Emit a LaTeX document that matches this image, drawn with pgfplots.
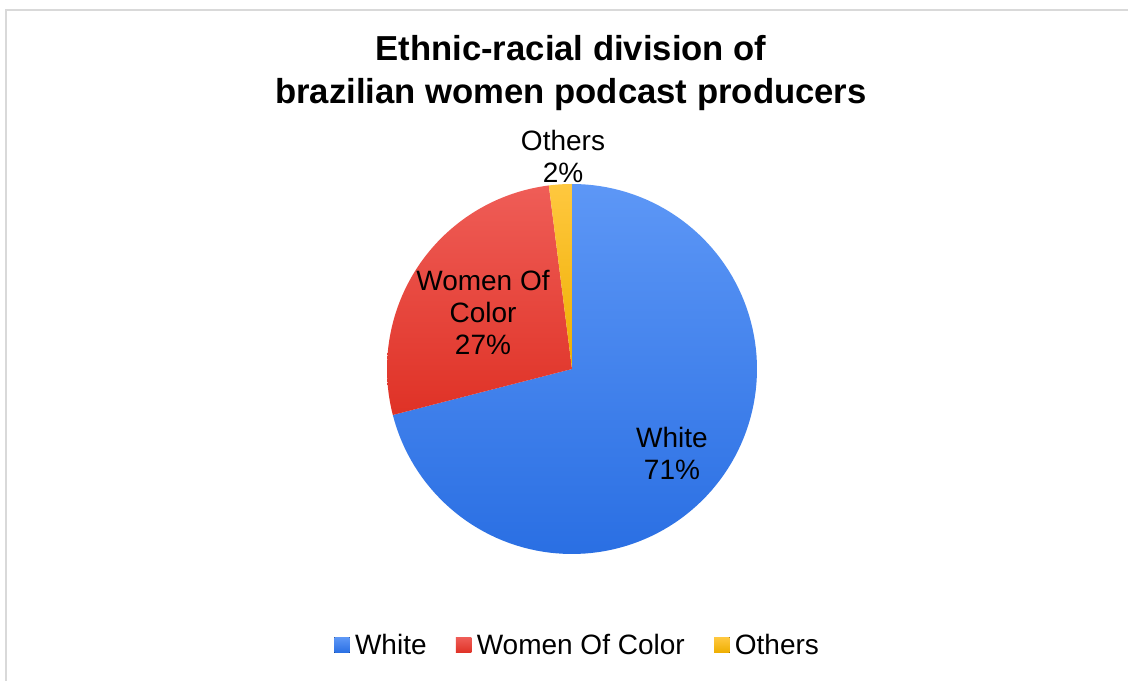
\documentclass[border=0pt]{standalone}
\usepackage{fontspec}
\setmainfont{Liberation Sans}
\usepackage{pgfplots}
\pgfplotsset{compat=1.18}
\definecolor{wTop}{HTML}{5D97F6}
\definecolor{wBot}{HTML}{2A6FE3}
\definecolor{cTop}{HTML}{EF5D57}
\definecolor{cBot}{HTML}{DF3226}
\definecolor{oTop}{HTML}{FFC83F}
\definecolor{oBot}{HTML}{EEAE00}
\definecolor{frameC}{HTML}{D9D9D9}
\begin{document}
\begin{tikzpicture}[x=0.75pt,y=0.75pt]
\useasboundingbox (0,0) rectangle (1128,681);
\fill[white] (0,0) rectangle (1128,681);
\draw[frameC, line width=1.5pt] (6,-500) -- (6,671) -- (1500,671);
% values (percent)
\pgfmathsetmacro{\vW}{71}
\pgfmathsetmacro{\vC}{27}
\pgfmathsetmacro{\vO}{2}
\pgfmathsetmacro{\aW}{90-3.6*\vW}
\pgfmathsetmacro{\aC}{\aW-3.6*\vC}
\pgfmathsetmacro{\aO}{\aC-3.6*\vO}
\begin{axis}[at={(429pt,234pt)}, anchor=center, hide axis, scale only axis,
  width=277.5pt, height=277.5pt, xmin=-1, xmax=1, ymin=-1, ymax=1, clip=false,
  legend columns=-1,
  legend style={at={(0.516,-0.246)}, anchor=center, draw=none, fill=none,
    font=\fontsize{21}{24}\selectfont,
    /tikz/every odd column/.append style={column sep=2pt},
    /tikz/every even column/.append style={column sep=20pt}},
  legend image code/.code={\fill[#1] (0pt,-5.8pt) rectangle (11.6pt,5.8pt);}]
\addplot[draw=none, top color=wTop, bottom color=wBot, domain=\aW:90, samples=120]
  ({cos(x)},{sin(x)}) -- (axis cs:0,0) -- cycle;
\addlegendentry{White}
\addplot[draw=none, top color=cTop, bottom color=cBot, domain=\aC:\aW, samples=60]
  ({cos(x)},{sin(x)}) -- (axis cs:0,0) -- cycle;
\addlegendentry{Women Of Color}
\addplot[draw=none, top color=oTop, bottom color=oBot, domain=\aO:\aC, samples=10]
  ({cos(x)},{sin(x)}) -- (axis cs:0,0) -- cycle;
\addlegendentry{Others}
\end{axis}
\node[align=center, font=\bfseries\fontsize{26}{32}\selectfont] at (571,608) {Ethnic-racial division of\\brazilian women podcast producers};
\node[align=center, font=\fontsize{21}{24}\selectfont] at (563,525) {Others\\2\%};
\node[align=center, font=\fontsize{21}{24}\selectfont] at (483,369) {Women Of\\Color\\27\%};
\node[align=center, font=\fontsize{21}{24}\selectfont] at (672,228) {White\\71\%};
\end{tikzpicture}
\end{document}
